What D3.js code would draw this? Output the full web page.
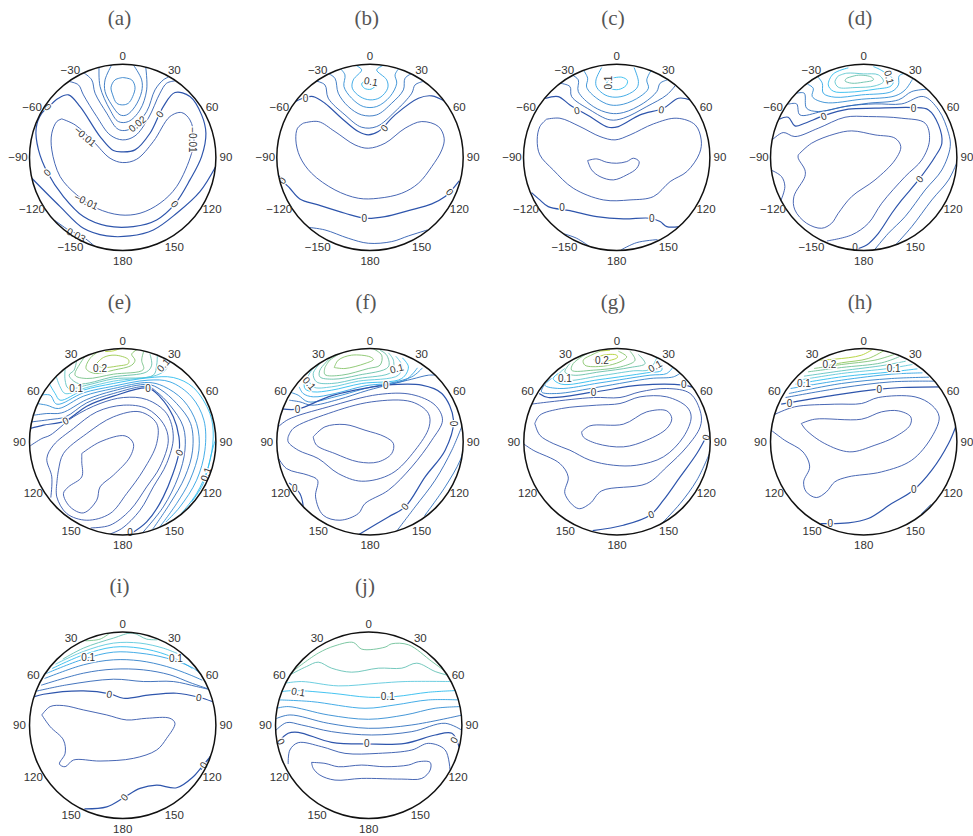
<!DOCTYPE html>
<html>
<head>
<meta charset="utf-8">
<script src="https://cdnjs.cloudflare.com/ajax/libs/d3/7.8.5/d3.min.js"></script>
<style>
  html, body { margin: 0; background: #fff; }
</style>
</head>
<body>
<svg id="chart" width="973" height="836"></svg>
<script>
// contours: [level, [[x, y], ...]], in read-off units of each panel's disc
const contoursA = [
  [0.05, [[368,233],[395,240],[405,262],[398,290],[385,310],[368,315],[350,310],[338,285],[333,262],[345,240],[368,233]]],
  [0.04, [[335,195],[315,240],[315,275],[335,315],[360,345],[380,345],[405,320],[425,275],[425,240],[400,195]]],
  [0.03, [[297,200],[300,260],[330,330],[355,365],[385,365],[420,330],[440,270],[437,200]]],
  [0.02, [[250,218],[275,240],[285,280],[320,340],[350,385],[368,392],[395,385],[440,335],[465,270],[490,240],[505,232]]],
  [0.01, [[208,245],[235,255],[250,285],[290,350],[330,405],[368,420],[405,408],[445,355],[480,280],[500,250],[525,243]]],
  [0, [[145,322],[175,295],[205,285],[240,320],[300,410],[340,452],[368,456],[405,450],[450,400],[490,320],[525,278],[570,290],[605,345],[618,400],[605,470],[570,540],[525,612],[470,660],[400,680],[320,678],[250,650],[190,590],[142,518],[115,450],[108,385],[125,340],[145,322]]],
  [-0.01, [[185,357],[225,375],[280,425],[330,475],[368,488],[410,478],[460,425],[510,350],[545,338],[570,360],[582,410],[575,460],[530,560],[480,610],[420,640],[360,645],[290,625],[230,585],[180,530],[155,450],[155,400],[170,365],[185,357]]],
  [0, [[650,495],[600,575],[530,640],[460,690],[390,708],[320,708],[250,685],[180,620],[95,535]]],
  [0.01, [[165,662],[205,690],[250,712],[285,740]]]
];
const contoursB = [
  [0.1, [[360,243],[350,252],[358,265],[378,268],[395,255]]],
  [0.08, [[335,198],[350,210],[325,240],[322,265],[345,290],[375,300],[405,293],[428,265],[425,240],[395,210],[412,198]]],
  [0.06, [[285,205],[300,225],[297,260],[320,295],[355,320],[395,320],[435,290],[455,250],[450,225],[462,205]]],
  [0.04, [[248,220],[270,235],[280,280],[310,320],[350,345],[395,345],[440,310],[475,270],[480,235],[502,220]]],
  [0.02, [[212,243],[240,255],[250,295],[300,345],[350,382],[395,380],[450,335],[500,280],[510,255],[533,245]]],
  [0, [[152,305],[180,293],[205,290],[240,310],[290,355],[340,395],[370,405],[400,395],[450,345],[520,295],[560,288],[600,305]]],
  [-0.02, [[175,370],[220,365],[270,395],[330,435],[370,445],[420,430],[480,385],[530,365],[580,380],[597,415],[590,450],[560,500],[520,550],[470,580],[400,595],[340,595],[270,570],[200,520],[165,470],[153,420],[158,385],[175,370]]],
  [0, [[103,528],[115,545],[135,565],[165,597],[220,615],[300,640],[360,655],[420,650],[490,632],[560,612],[600,590],[620,570],[642,543]]],
  [0.01, [[188,682],[240,690],[310,715],[370,730],[440,725],[490,708],[547,690]]]
];
const contoursC = [
  [0.1, [[360,236],[395,232],[412,242],[408,257],[385,269],[360,265],[350,250],[360,236]]],
  [0.08, [[335,203],[318,240],[320,262],[345,285],[375,292],[410,285],[440,265],[445,245],[432,203]]],
  [0.06, [[280,210],[293,235],[290,262],[320,295],[360,315],[400,313],[450,290],[475,265],[470,240],[484,210]]],
  [0.04, [[248,226],[265,240],[265,275],[310,320],[360,340],[400,338],[460,310],[500,275],[510,250],[532,240]]],
  [0.02, [[210,250],[240,260],[245,290],[300,330],[360,360],[400,355],[470,320],[530,285],[557,255]]],
  [0, [[166,296],[205,290],[240,315],[300,350],[355,382],[385,380],[450,345],[520,325],[565,295],[600,300]]],
  [-0.02, [[170,358],[210,355],[270,380],[330,410],[375,420],[420,405],[490,372],[560,355],[615,375],[633,420],[628,460],[590,515],[540,545],[490,590],[420,600],[340,600],[250,565],[190,510],[150,465],[142,420],[150,380],[170,358]]],
  [-0.04, [[293,482],[320,477],[350,487],[380,490],[410,485],[430,475],[447,485],[440,505],[410,525],[370,540],[330,530],[305,510],[293,482]]],
  [0, [[125,578],[150,600],[175,620],[240,632],[320,650],[400,657],[480,655],[510,665],[530,680],[567,680]]],
  [0.01, [[223,702],[260,715],[302,742]]],
  [0.01, [[393,750],[440,728],[502,719]]]
];
const contoursD = [
  [0.16, [[335,235],[370,226],[410,232],[415,240],[385,247],[350,250],[330,243],[335,235]]],
  [0.13, [[310,228],[335,220],[385,222],[430,225],[445,245],[420,258],[360,263],[310,262],[300,245],[310,228]]],
  [0.1, [[340,204],[295,222],[280,255],[295,274],[340,277],[420,268],[468,258],[475,240],[440,212],[415,200]]],
  [0.08, [[248,230],[262,250],[265,280],[300,292],[380,285],[470,275],[490,255],[492,228],[510,220]]],
  [0.06, [[218,253],[235,265],[232,290],[270,308],[380,298],[480,288],[510,270],[532,238]]],
  [0.04, [[186,280],[208,280],[215,325],[250,335],[330,320],[400,310],[490,300],[530,275],[574,268]]],
  [0.02, [[160,313],[185,312],[195,345],[260,335],[340,318],[420,312],[500,312],[565,290],[610,330],[640,400],[645,440],[620,510],[570,570],[510,650],[460,700],[418,750]]],
  [0, [[133,358],[160,352],[180,378],[210,370],[265,348],[340,328],[420,325],[535,323],[580,330],[610,375],[620,430],[600,470],[552,538],[500,600],[470,640],[430,700],[395,735],[355,750]]],
  [0.02, [[668,480],[640,540],[590,600],[530,680],[483,733]]],
  [-0.02, [[110,422],[145,398],[180,410],[250,385],[330,352],[400,350],[500,355],[570,370],[583,420],[560,480],[510,530],[440,610],[400,670],[350,705],[276,723]]],
  [-0.04, [[190,465],[230,430],[300,402],[350,393],[420,405],[480,415],[497,440],[480,480],[420,540],[350,590],[310,640],[290,670],[260,685],[215,670],[180,630],[177,590],[210,530],[210,510],[190,475],[190,465]]],
  [-0.02, [[110,511],[140,530],[150,560],[138,602]]]
];
const contoursE = [
  [0.24, [[315,214],[340,212],[360,205]]],
  [0.22, [[285,255],[310,232],[345,225],[385,238],[385,250],[350,258],[310,262],[285,255]]],
  [0.2, [[302,211],[272,232],[258,265],[285,280],[340,270],[395,255],[405,240],[395,222],[415,206]]],
  [0.18, [[262,220],[240,250],[225,285],[260,295],[340,282],[430,268],[425,240],[432,211]]],
  [0.16, [[230,238],[222,270],[207,285],[235,310],[340,290],[440,275],[455,255],[450,222]]],
  [0.14, [[195,265],[195,300],[205,325],[260,315],[340,296],[460,285],[470,255],[472,228]]],
  [0.12, [[168,288],[180,320],[195,340],[260,322],[340,303],[470,285],[500,265],[497,238]]],
  [0.1, [[146,308],[165,340],[180,360],[250,330],[340,310],[444,293],[520,292],[580,322],[630,400],[640,470],[625,560],[590,640],[538,707]]],
  [0.08, [[121,345],[150,345],[170,372],[250,338],[340,318],[444,300],[510,305],[575,350],[612,420],[615,510],[590,600],[540,680],[498,725]]],
  [0.06, [[109,370],[140,375],[175,385],[250,348],[340,325],[444,307],[490,318],[550,360],[590,430],[597,510],[570,600],[530,670],[478,742]]],
  [0.04, [[101,405],[140,400],[185,398],[260,358],[340,332],[444,313],[480,327],[530,370],[572,430],[578,510],[555,590],[510,670],[458,747]]],
  [0.02, [[95,425],[150,418],[196,410],[260,368],[340,340],[444,319],[470,335],[510,375],[550,440],[555,510],[535,590],[490,680],[428,757]]],
  [0, [[90,445],[130,435],[196,422],[260,378],[340,348],[444,324],[480,350],[520,410],[537,470],[537,517],[490,650],[440,725],[390,762]]],
  [0.1, [[650,470],[640,500],[610,610],[575,665]]],
  [-0.01, [[90,497],[125,475],[150,465],[220,410],[300,370],[370,352],[440,358],[500,400],[520,470],[500,550],[460,620],[420,690],[365,745],[328,762]]],
  [-0.02, [[152,652],[155,590],[140,535],[160,495],[220,445],[290,395],[370,375],[440,385],[490,430],[505,480],[480,560],[440,620],[390,690],[330,735],[272,743]]],
  [-0.03, [[170,610],[175,570],[190,520],[260,460],[340,410],[420,395],[470,430],[470,490],[430,570],[380,640],[330,700],[260,720],[200,700],[170,650],[170,610]]],
  [-0.04, [[245,520],[300,485],[375,467],[400,490],[390,530],[340,585],[300,620],[290,660],[250,698],[210,680],[190,640],[205,620],[245,590],[245,545],[245,520]]]
];
const contoursF = [
  [0.2, [[268,262],[280,240],[320,225],[375,230],[385,238],[360,250],[300,265],[268,262]]],
  [0.19, [[300,214],[335,207]]],
  [0.18, [[240,262],[255,240],[300,212]]],
  [0.18, [[385,206],[410,225],[405,255],[370,265],[290,285],[240,283],[240,262]]],
  [0.16, [[260,230],[225,270],[225,290],[265,297],[340,285],[430,260],[425,225],[405,210]]],
  [0.14, [[225,250],[205,280],[215,305],[260,310],[340,295],[440,275],[445,240],[430,218]]],
  [0.12, [[205,265],[190,290],[205,320],[260,320],[340,303],[460,285],[470,255],[452,228]]],
  [0.1, [[180,295],[180,325],[205,335],[260,330],[350,310],[470,295],[490,260],[472,233]]],
  [0.08, [[163,320],[175,340],[205,350],[270,340],[360,317],[480,300],[517,263]]],
  [0.06, [[133,335],[160,345],[190,365],[270,350],[360,325],[500,290],[532,263]]],
  [0.03, [[133,360],[165,365],[200,375],[280,358],[370,330],[500,297],[550,285],[572,285]]],
  [0, [[111,386],[158,387],[250,350],[330,330],[423,315],[530,315],[590,340],[625,420],[600,510],[540,590],[480,680],[430,710],[343,762]]],
  [-0.02, [[96,525],[125,565],[190,585],[218,600],[212,650],[235,705],[285,720],[340,700],[360,670],[430,630],[500,560],[560,480],[592,420],[570,375],[500,343],[400,343],[250,380],[130,418],[98,442]]],
  [-0.03, [[130,470],[145,445],[250,400],[380,365],[500,365],[550,400],[552,440],[510,510],[440,580],[350,603],[280,580],[220,535],[160,510],[130,485],[130,470]]],
  [-0.04, [[205,470],[240,440],[300,433],[360,450],[420,470],[445,490],[440,520],[400,545],[340,545],[270,520],[215,495],[205,470]]],
  [0, [[133,608],[165,640],[175,677]]],
  [0.02, [[453,755],[510,680],[570,600],[620,510],[652,433]]],
  [0.04, [[538,707],[600,620],[645,540],[657,498]]]
];
const contoursG = [
  [0.24, [[328,213],[360,210]]],
  [0.24, [[312,238],[340,225],[380,225],[382,232],[350,243],[320,248],[312,238]]],
  [0.2, [[330,213],[310,222],[280,240],[285,255],[340,258],[390,245],[410,230],[385,213]]],
  [0.18, [[300,215],[250,250],[245,270],[310,270],[400,258],[435,240],[420,213]]],
  [0.16, [[240,250],[225,275],[250,285],[330,275],[420,262],[465,250],[445,223]]],
  [0.13, [[225,265],[205,285],[225,300],[330,287],[430,272],[478,268],[500,233]]],
  [0.1, [[205,280],[190,295],[215,312],[330,298],[470,278],[515,270],[510,248]]],
  [0.08, [[185,295],[165,315],[210,325],[330,308],[480,285],[530,280],[547,263]]],
  [0.05, [[163,315],[155,335],[200,340],[330,320],[480,295],[550,290],[572,278]]],
  [0, [[148,340],[175,352],[310,336],[450,315],[580,315],[609,322]]],
  [-0.02, [[100,490],[130,510],[210,550],[235,590],[225,640],[265,685],[300,670],[335,632],[470,610],[530,560],[590,500],[630,440],[632,400],[600,340],[530,325],[450,335],[390,352],[310,352],[180,365],[123,372]]],
  [-0.03, [[135,430],[150,405],[215,385],[320,375],[390,370],[450,350],[530,350],[590,380],[603,410],[580,470],[520,530],[440,555],[370,555],[300,540],[240,510],[190,490],[150,465],[135,430]]],
  [-0.04, [[275,455],[300,437],[400,432],[470,395],[530,392],[545,415],[530,445],[470,480],[400,500],[320,490],[280,470],[275,455]]],
  [0, [[652,462],[620,520],[570,590],[520,660],[480,705],[400,735],[308,751]]],
  [0.02, [[657,522],[620,600],[570,670],[508,737]]]
];
const contoursH = [
  [0.24, [[250,240],[300,237],[380,225],[417,205]]],
  [0.21, [[263,260],[320,248],[400,235],[452,208]]],
  [0.19, [[238,265],[320,253],[420,240],[477,223]]],
  [0.17, [[220,275],[320,262],[440,248],[492,230]]],
  [0.14, [[208,288],[320,272],[450,255],[512,243]]],
  [0.12, [[193,300],[320,280],[460,265],[532,253]]],
  [0.1, [[183,312],[320,290],[470,275],[547,266]]],
  [0.08, [[168,325],[320,300],[470,282],[562,278]]],
  [0.05, [[163,340],[320,310],[470,295],[582,291]]],
  [0.03, [[153,352],[320,323],[470,305],[602,303]]],
  [0, [[140,372],[300,345],[433,327],[500,322],[617,320]]],
  [-0.02, [[118,404],[180,380],[300,372],[380,370],[430,352],[540,350],[590,375],[612,410],[590,470],[530,540],[440,575],[340,590],[300,605],[275,635],[245,652],[215,635],[207,605],[225,560],[205,515],[150,480],[110,450]]],
  [-0.04, [[200,430],[240,417],[380,417],[440,395],[490,392],[527,410],[525,435],[480,470],[420,495],[345,515],[270,490],[215,450],[200,430]]],
  [0, [[662,438],[640,490],[590,570],[535,630],[470,670],[400,715],[340,728],[258,730]]],
  [0.02, [[558,702],[587,673]]]
];
const contoursI = [
  [0.18, [[256,243],[300,238],[332,218]]],
  [0.15, [[188,298],[250,265],[340,235],[397,220],[440,238],[472,240]]],
  [0.12, [[166,313],[250,275],[340,250],[420,250],[490,265],[532,281]]],
  [0.1, [[156,326],[250,285],[340,262],[420,265],[500,285],[560,315],[577,326]]],
  [0.08, [[138,341],[250,298],[340,277],[420,280],[500,295],[580,325],[602,343]]],
  [0.05, [[133,356],[250,315],[340,300],[420,303],[500,320],[570,345],[607,361]]],
  [0.03, [[123,376],[250,340],[340,328],[430,330],[510,345],[570,368],[622,386]]],
  [0.02, [[108,394],[200,375],[340,358],[430,365],[520,365],[590,380],[625,388]]],
  [0, [[103,410],[130,403],[250,393],[330,402],[370,415],[450,405],[530,400],[597,412],[640,426]]],
  [-0.02, [[125,465],[150,440],[190,437],[250,450],[320,465],[380,480],[440,475],[510,475],[525,490],[500,535],[470,570],[400,595],[300,603],[220,600],[195,620],[178,612],[195,580],[190,540],[150,500],[125,465]]],
  [0, [[253,746],[320,740],[372,712],[420,685],[470,675],[530,683],[580,650],[610,615],[632,588]]],
  [0.01, [[603,630],[632,588]]]
];
const contoursJ = [
  [0.17, [[148,331],[220,280],[270,258],[325,248],[350,268],[420,262],[440,252],[490,255],[560,305],[602,336]]],
  [0.15, [[133,346],[185,320],[220,307],[260,325],[320,337],[400,325],[470,325],[515,310],[570,335],[607,346]]],
  [0.12, [[120,370],[170,365],[280,378],[400,370],[480,365],[617,365]]],
  [0.1, [[110,395],[150,392],[260,400],[370,412],[450,410],[550,397],[632,392]]],
  [0.08, [[103,420],[200,425],[360,445],[450,435],[550,420],[642,420]]],
  [0.06, [[96,445],[130,440],[250,465],[370,478],[480,465],[570,445],[647,440]]],
  [0.04, [[94,476],[135,465],[250,490],[370,505],[500,495],[652,465]]],
  [0.02, [[90,514],[125,488],[170,495],[260,515],[380,525],[500,515],[600,490],[652,512]]],
  [0, [[100,547],[130,520],[160,517],[260,547],[370,552],[480,550],[570,525],[620,520],[642,562]]],
  [-0.01, [[130,612],[135,570],[160,548],[230,560],[300,580],[400,580],[500,570],[550,550],[600,570],[615,637]]],
  [-0.02, [[200,607],[240,610],[280,620],[350,615],[420,620],[490,615],[520,605],[555,607],[555,630],[530,655],[470,657],[350,655],[270,660],[225,645],[205,625],[200,607]]]
];

// contour labels: [text, x, y, rotation]
const labelsA = [["0",143,322,50],["0",141,518,-45],["0",479,343,-55],["0",524,613,50],["\u22120.01",255,410,40],["\u22120.01",258,605,25],["0.02",412,372,-40],["\u22120.01",578,420,90],["0.03",228,705,28]];
const labelsB = [["0.1",378,245,10],["0",182,295,0],["0",418,385,-50],["0",113,542,-50],["0",614,577,50],["0",358,655,0]];
const labelsC = [["0.1",356,248,-90],["0",261,332,-10],["0",514,330,10],["0",216,623,0],["0",485,657,0]];
const labelsD = [["0.1",462,232,75],["0",266,349,-20],["0",535,325,0],["0",553,538,-50],["0",360,742,0]];
const labelsE = [["0.2",300,265,0],["0.1",228,324,0],["0",444,324,0],["0",196,422,-25],["0",538,517,-60],["0",390,758,0],["0.1",490,255,-50],["0.1",618,582,-70]];
const labelsF = [["0.1",193,310,50],["0.1",455,265,-15],["0",422,315,0],["0",158,387,0],["0",624,430,90],["0",479,679,-50],["0",150,625,0]];
const labelsG = [["0.2",336,240,0],["0.1",225,295,0],["0.1",495,258,-30],["0",311,337,0],["0",581,314,0],["0",648,472,-75],["0",483,703,-20]];
const labelsH = [["0.2",284,252,0],["0.1",208,309,0],["0.1",476,265,0],["0",433,327,0],["0",165,370,0],["0",536,628,0],["0",287,730,0]];
const labelsI = [["0.1",264,292,0],["0.1",528,295,0],["0",328,403,10],["0",597,413,10],["0",373,712,-50],["0",611,615,-60]];
const labelsJ = [["0.1",160,396,10],["0.1",428,410,0],["0",108,545,60],["0",365,551,0],["0",627,540,-60]];

// panel titles and the disc edges of each panel in read-off units
const panelNames = ["(a)","(b)","(c)","(d)","(e)","(f)","(g)","(h)","(i)","(j)"];
const readX = [[88,648],[96,654],[101,659],[107,665],[88,648],[96,654],[102,660],[108,665],[88,648],[92,650]];
const readY = [[193,752],[193,752],[193,752],[193,752],[205,764],[205,764],[205,764],[205,764],[217,775],[217,775]];
const allContours = [contoursA,contoursB,contoursC,contoursD,contoursE,contoursF,contoursG,contoursH,contoursI,contoursJ];
const allLabels = [labelsA,labelsB,labelsC,labelsD,labelsE,labelsF,labelsG,labelsH,labelsI,labelsJ];

const tickAngles = [0,30,60,90,120,150,180,210,240,270,300,330];
const tickSigned = ["0","30","60","90","120","150","180","\u2212150","\u2212120","\u221290","\u221260","\u221230"];
const tickUnsigned = ["0","30","60","90","120","150","180","150","120","90","60","30"];

const colorLevels = [-0.05,0,0.04,0.08,0.1,0.12,0.16,0.2,0.24];
const colorValues = ["#3a58ac","#2e55ac","#2f72c0","#30a4e4","#2fbcee","#5cc8dc","#66c0a8","#86c468","#b0d030"];

const R = 93.2;
const centerX = [122.7,370,616.7,863.7,122.7,370,617,863.7,122.7,368.7];
const centerY = [157.4,157.4,157.4,157.4,441.7,441.7,441.7,441.7,725.3,725.3];
const titleX = [119.5,366.7,613,860,119.5,366,613,860,119.5,365];
const titleY = [18,18,18,18,302,302,302,302,586,586];

const svg = d3.select('#chart');
const color = d3.scaleLinear().domain(colorLevels).range(colorValues);
const angle = d3.scaleLinear().domain([0,360]).range([0,2*Math.PI]);

panelNames.forEach((name,i) => {
    const x = d3.scaleLinear().domain(readX[i]).range([centerX[i]-R,centerX[i]+R]);
    const y = d3.scaleLinear().domain(readY[i]).range([centerY[i]-R,centerY[i]+R]);
    const line = d3.line().x(d => x(d[0])).y(d => y(d[1])).curve(d3.curveCatmullRom.alpha(0.5));

    svg.append('clipPath')
        .attr('id',`disc${i}`)
        .append('circle')
        .attr('cx',centerX[i])
        .attr('cy',centerY[i])
        .attr('r',R);

    const g = svg.append('g').attr('class',`panel${i}`);

    g.append('text')
        .attr('x',titleX[i])
        .attr('y',titleY[i])
        .attr('fill','#555')
        .style('font-family','"Liberation Serif"')
        .style('font-size','21px')
        .style('text-anchor','middle')
        .style('dominant-baseline','central')
        .text(name);

    g.append('g')
        .attr('clip-path',`url(#disc${i})`)
        .selectAll('path')
        .data(allContours[i])
        .enter()
        .append('path')
        .attr('d',d => line(d[1]))
        .attr('fill','none')
        .attr('stroke',d => color(d[0]))
        .attr('stroke-width',d => d[0] === 0 ? 1.2 : 0.9);

    g.selectAll('text.clabel')
        .data(allLabels[i])
        .enter()
        .append('text')
        .attr('class','clabel')
        .attr('transform',d => `translate(${x(d[1])},${y(d[2])}) rotate(${d[3]})`)
        .attr('fill','#333')
        .attr('stroke','#fff')
        .attr('stroke-width',2.5)
        .style('paint-order','stroke')
        .style('font-family','"Liberation Sans"')
        .style('font-size','10px')
        .style('text-anchor','middle')
        .style('dominant-baseline','central')
        .text(d => d[0]);

    g.append('circle')
        .attr('cx',centerX[i])
        .attr('cy',centerY[i])
        .attr('r',R)
        .attr('fill','none')
        .attr('stroke','#111')
        .attr('stroke-width',1.5);

    const ticks = i < 4 ? tickSigned : tickUnsigned;
    g.selectAll('text.tick')
        .data(tickAngles)
        .enter()
        .append('text')
        .attr('class','tick')
        .attr('x',d => centerX[i] + (R+(i < 4 && d > 180 ? 11.5 : 10))*Math.sin(angle(d)))
        .attr('y',d => centerY[i] - (R+10)*Math.cos(angle(d)) + 2*Math.max(0,Math.cos(angle(d))))
        .attr('fill','#333')
        .style('font-family','"Liberation Sans"')
        .style('font-size','11.5px')
        .style('text-anchor','middle')
        .style('dominant-baseline','central')
        .text((d,k) => ticks[k]);
});
</script>
</body>
</html>
